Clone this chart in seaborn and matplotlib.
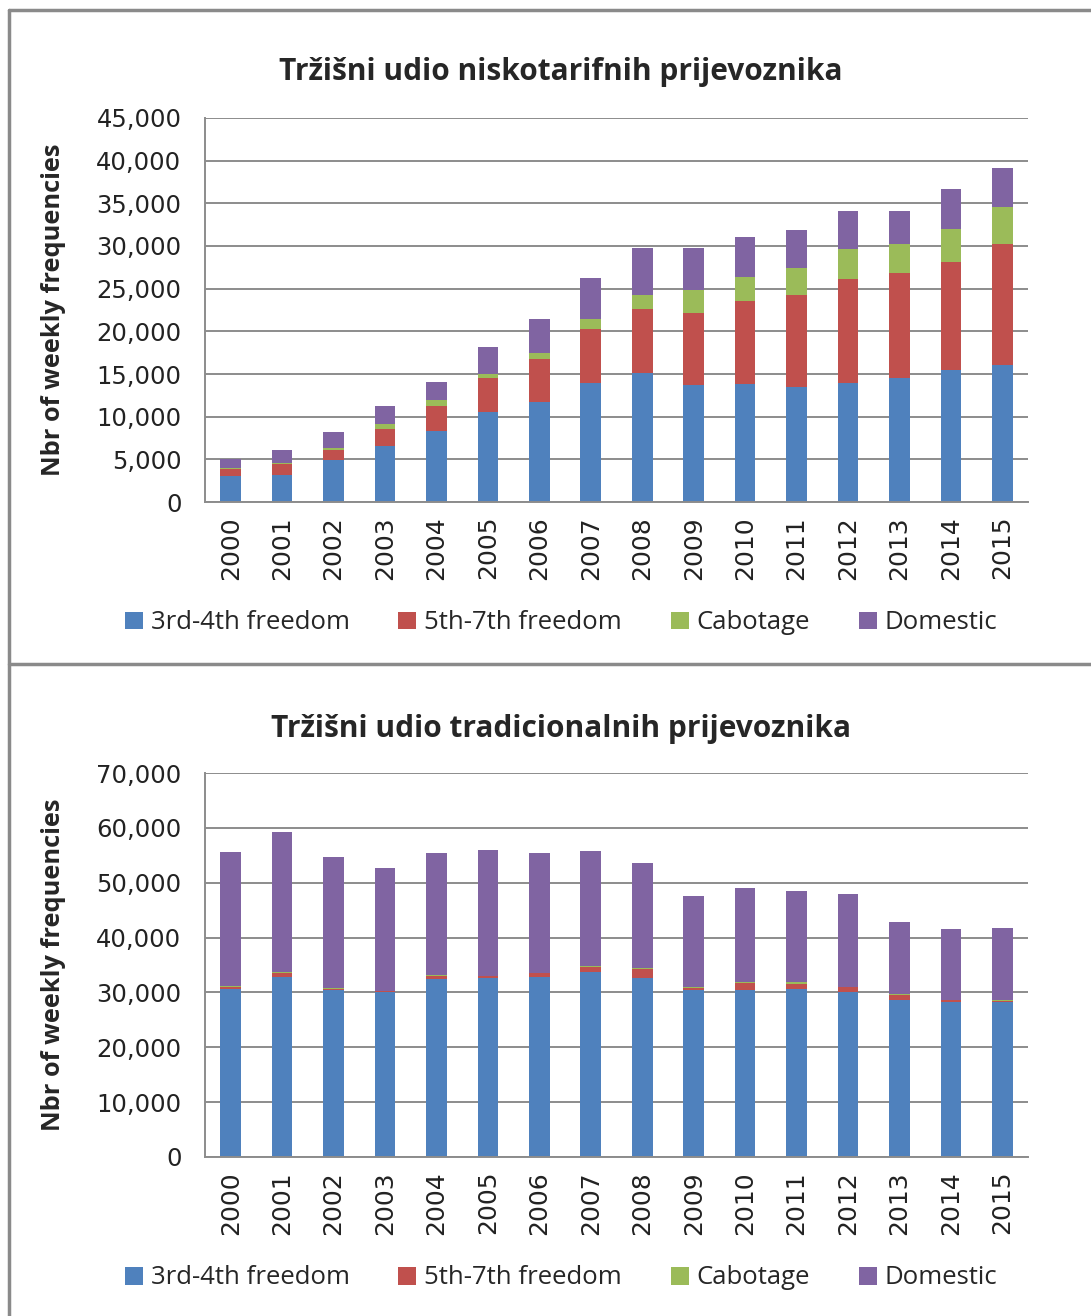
import numpy as np
import pandas as pd
import matplotlib
matplotlib.use("Agg")
import matplotlib.pyplot as plt
from matplotlib.patches import Patch
from matplotlib.lines import Line2D
from matplotlib.ticker import FuncFormatter, FixedLocator
import seaborn as sns

# ---------------- data ----------------
years = ["2000", "2001", "2002", "2003", "2004", "2005", "2006", "2007",
         "2008", "2009", "2010", "2011", "2012", "2013", "2014", "2015"]
series_names = ["3rd-4th freedom", "5th-7th freedom", "Cabotage", "Domestic"]

# low-cost carriers (top chart)
lcc_34 = [3100, 3200, 4900, 6600, 8300, 10500, 11750, 14000,
          15100, 13700, 13800, 13450, 14000, 14500, 15500, 16100]
lcc_57 = [800, 1300, 1200, 2000, 2900, 4000, 4950, 6300,
          7500, 8500, 9800, 10850, 12100, 12300, 12600, 14100]
lcc_cab = [50, 50, 250, 500, 800, 500, 750, 1150,
           1700, 2600, 2800, 3150, 3600, 3400, 3900, 4400]
lcc_dom = [1100, 1600, 1800, 2150, 2100, 3200, 3950, 4750,
           5500, 5000, 4650, 4450, 4400, 3900, 4700, 4500]

# traditional carriers (bottom chart)
trad_34 = [30700, 32900, 30400, 30100, 32500, 32700, 32800, 33800,
           32600, 30400, 30500, 30700, 30100, 28600, 28200, 28200]
trad_57 = [300, 600, 300, 100, 500, 300, 700, 900,
           1600, 400, 1200, 900, 900, 900, 400, 300]
trad_cab = [150, 200, 100, 50, 200, 50, 50, 50,
            300, 200, 200, 250, 50, 300, 50, 50]
trad_dom = [24500, 25500, 23800, 22350, 22200, 22850, 21850, 20950,
            19100, 16600, 17100, 16550, 16850, 13000, 12850, 13250]

titles = ["Tržišni udio niskotarifnih prijevoznika",
          "Tržišni udio tradicionalnih prijevoznika"]
ylabel = "Nbr of weekly frequencies"
yticks_top = [0, 5000, 10000, 15000, 20000, 25000, 30000, 35000, 40000, 45000]
yticks_bot = [0, 10000, 20000, 30000, 40000, 50000, 60000, 70000]

colors = ["#4F81BD", "#C0504D", "#9BBB59", "#8064A2"]
grid_col = "#8C8C8C"

# ---------------- figure ----------------
sns.set_style("white")
plt.rcParams["font.family"] = ["DejaVu Sans"]

W, H = 1091, 1316
fig = plt.figure(figsize=(W / 100, H / 100), dpi=100)


def fx(px):
    return px / W


def fy(py):
    return 1 - py / H


def draw_panel(ax, series, yticks, title, title_y, legend_y):
    df = pd.DataFrame({"year": years})
    bottom = np.zeros(len(years))
    for name, vals, col in zip(series_names, series, colors):
        vals = np.asarray(vals, dtype=float)
        sns.barplot(x=df["year"], y=vals, bottom=bottom, color=col,
                    width=0.4, ax=ax, saturation=1, linewidth=0,
                    errorbar=None)
        bottom = bottom + vals
    ax.set_xlim(-0.5, len(years) - 0.5)
    ax.set_ylim(0, yticks[-1])
    ax.yaxis.set_major_locator(FixedLocator(yticks))
    ax.yaxis.set_major_formatter(FuncFormatter(lambda v, p: f"{int(v):,}"))
    ax.grid(axis="y", color=grid_col, linewidth=1.4)
    ax.set_axisbelow(True)
    for s in ["top", "right"]:
        ax.spines[s].set_visible(False)
    for s in ["left", "bottom"]:
        ax.spines[s].set_color(grid_col)
        ax.spines[s].set_linewidth(1.4)
    ax.set_xlabel("")
    ax.set_ylabel(ylabel, fontsize=18.3, fontweight="bold",
                  family=["Open Sans", "DejaVu Sans"], labelpad=22)
    ax.tick_params(axis="y", labelsize=17.5, length=10, width=1.4,
                   color=grid_col, pad=7, labelcolor="#222222")
    ax.tick_params(axis="x", which="major", labelsize=18, length=0,
                   pad=10, labelrotation=90, labelcolor="#222222")
    ax.xaxis.set_minor_locator(FixedLocator(np.arange(-0.5, len(years), 1.0)))
    ax.tick_params(axis="x", which="minor", length=7, width=1.4,
                   color=grid_col)
    fig.text(fx(561), fy(title_y), title, ha="center", va="center",
             fontsize=21.5, fontweight="bold",
             family=["Open Sans", "DejaVu Sans"])
    handles = [Patch(facecolor=c, edgecolor="none", label=n)
               for n, c in zip(series_names, colors)]
    fig.legend(handles=handles, loc="center", ncol=4,
               bbox_to_anchor=(fx(561), fy(legend_y)), frameon=False,
               prop={"family": ["Open Sans", "DejaVu Sans"], "size": 18.5},
               handlelength=0.7, handleheight=0.7, handletextpad=0.3,
               columnspacing=1.9)


ax1 = fig.add_axes([fx(205), fy(502), fx(1028) - fx(205), fy(118) - fy(502)])
draw_panel(ax1, [lcc_34, lcc_57, lcc_cab, lcc_dom], yticks_top,
           titles[0], 72, 623)

ax2 = fig.add_axes([fx(205), fy(1157), fx(1028) - fx(205), fy(773) - fy(1157)])
draw_panel(ax2, [trad_34, trad_57, trad_cab, trad_dom], yticks_bot,
           titles[1], 729, 1278)

# panel borders
border_col = "#8A8A8A"
fig.add_artist(Line2D([fx(9), fx(9)], [fy(10), fy(1316)], color=border_col,
                      lw=2.5, transform=fig.transFigure))
fig.add_artist(Line2D([fx(9), fx(1091)], [fy(10), fy(10)], color=border_col,
                      lw=2.5, transform=fig.transFigure))
fig.add_artist(Line2D([fx(9), fx(1091)], [fy(664), fy(664)], color=border_col,
                      lw=2.5, transform=fig.transFigure))

fig.savefig("out.png", dpi=100)
